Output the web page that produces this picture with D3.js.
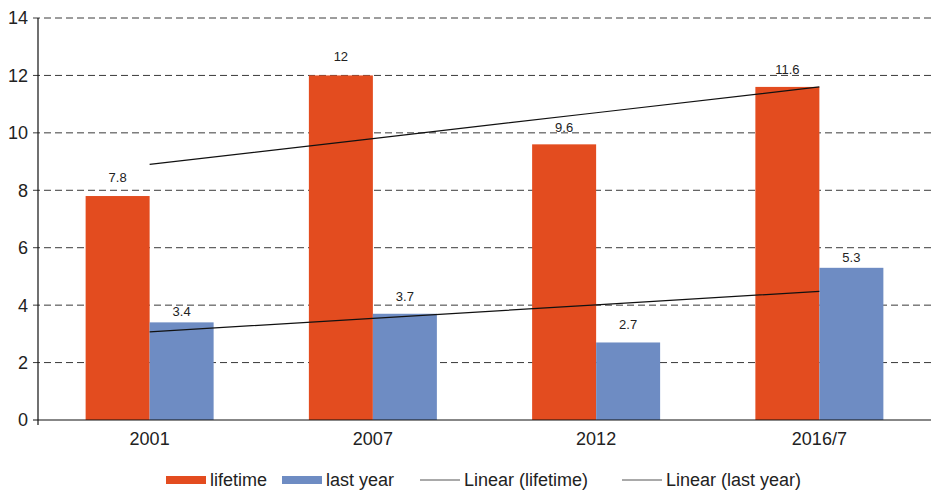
<!DOCTYPE html>
<html><head><meta charset="utf-8">
<script src="https://cdn.jsdelivr.net/npm/d3@7"></script>
<style>body{margin:0;background:#fff}svg{display:block;font-family:"Liberation Sans",Arial,sans-serif}</style>
</head><body><svg id="c" width="931" height="493"></svg>
<script>
const categories = ["2001", "2007", "2012", "2016/7"];
const lifetime = [7.8, 12, 9.6, 11.6];
const lastYear = [3.4, 3.7, 2.7, 5.3];
const yTicks = [0, 2, 4, 6, 8, 10, 12, 14];
const seriesNames = ["lifetime", "last year"];
const trendNames = ["Linear (lifetime)", "Linear (last year)"];

// label gaps above bar tops (style)
const labelGaps = [[14, 14, 12, 13], [6, 13, 13, 6]];

const svg = d3.select("#c");
const m = {l: 38, r: 0, t: 18, b: 73};
const W = 931, H = 493;
const x = d3.scaleBand().domain(categories).range([m.l, W - m.r]).paddingInner(0).paddingOuter(0);
const y = d3.scaleLinear().domain([0, 14]).range([H - m.b, m.t]);
const colors = ["#E34C1F", "#6E8CC3"];
const barW = 64;

// grid
svg.append("g").selectAll("line").data(yTicks.filter(d => d > 0)).join("line")
  .attr("x1", 33).attr("x2", W).attr("y1", d => y(d)).attr("y2", d => y(d))
  .attr("stroke", "#3a3a3a").attr("stroke-width", 1).attr("stroke-dasharray", "7,4");

// bars
const series = [lifetime, lastYear];
series.forEach((vals, si) => {
  const g = svg.append("g");
  g.selectAll("rect").data(vals).join("rect")
    .attr("x", (d, i) => x(categories[i]) + x.bandwidth() / 2 - barW + si * barW)
    .attr("width", barW)
    .attr("y", d => y(d)).attr("height", d => y(0) - y(d))
    .attr("fill", colors[si]);
  g.selectAll("text").data(vals).join("text")
    .attr("x", (d, i) => x(categories[i]) + x.bandwidth() / 2 - barW / 2 + si * barW)
    .attr("y", (d, i) => y(d) - labelGaps[si][i])
    .attr("text-anchor", "middle").attr("font-size", 13).attr("fill", "#222")
    .text(d => d);
});

// trendlines (least squares on category index)
function fit(vals) {
  const xs = vals.map((_, i) => i + 1);
  const mx = d3.mean(xs), my = d3.mean(vals);
  const s = d3.sum(xs.map((xi, i) => (xi - mx) * (vals[i] - my))) / d3.sum(xs.map(xi => (xi - mx) ** 2));
  return xs.map(xi => my + s * (xi - mx));
}
const line = d3.line().x((d, i) => x(categories[i]) + x.bandwidth() / 2).y(d => y(d));
series.forEach(vals => {
  svg.append("path").attr("d", line(fit(vals))).attr("fill", "none").attr("stroke", "#111").attr("stroke-width", 1.2);
});

// axes
svg.append("line").attr("x1", m.l).attr("x2", m.l).attr("y1", m.t).attr("y2", y(0) + 5).attr("stroke", "#111").attr("stroke-width", 1.2);
svg.append("line").attr("x1", 33).attr("x2", W).attr("y1", y(0)).attr("y2", y(0)).attr("stroke", "#111").attr("stroke-width", 1.2);
svg.append("g").selectAll("text").data(yTicks).join("text")
  .attr("x", 28).attr("y", d => y(d)).attr("dy", "0.36em")
  .attr("text-anchor", "end").attr("font-size", 18).attr("fill", "#222").text(d => d);

svg.append("g").selectAll("text").data(categories).join("text")
  .attr("x", d => x(d) + x.bandwidth() / 2).attr("y", y(0) + 25)
  .attr("text-anchor", "middle").attr("font-size", 18).attr("fill", "#222").text(d => d);

// legend
const lg = svg.append("g").attr("fill", "#222").attr("font-size", 18);
const ly = 480;
const items = [
  {type: "rect", c: colors[0], x: 166, label: seriesNames[0]},
  {type: "rect", c: colors[1], x: 282, label: seriesNames[1]},
  {type: "line", x: 420, label: trendNames[0]},
  {type: "line", x: 622, label: trendNames[1]}
];
items.forEach(it => {
  if (it.type === "rect") {
    lg.append("rect").attr("x", it.x).attr("y", ly - 4).attr("width", 40).attr("height", 8).attr("fill", it.c);
  } else {
    lg.append("line").attr("x1", it.x).attr("x2", it.x + 40).attr("y1", ly).attr("y2", ly).attr("stroke", "#555").attr("stroke-width", 1);
  }
  lg.append("text").attr("x", it.x + 44).attr("y", 486).text(it.label);
});
</script></body></html>
